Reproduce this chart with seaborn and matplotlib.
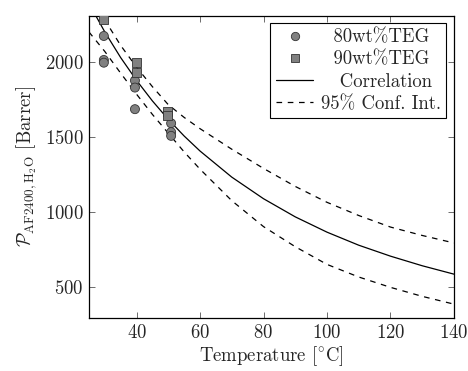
"""
Water permeability of AF2400 vs temperature, with Arrhenius-type correlation.
"""
import numpy as np
import pandas as pd
import matplotlib
matplotlib.use('Agg')
import matplotlib.pyplot as plt
import seaborn as sns
from matplotlib.lines import Line2D

temp_80 = [29.7, 29.7, 29.7, 39.5, 39.5, 39.5, 50.9, 50.9, 50.9]
perm_80 = [2173, 2013, 1995, 1876, 1829, 1685, 1591, 1532, 1507]
temp_90 = [29.7, 40.0, 40.0, 49.7, 49.7]
perm_90 = [2285, 1993, 1929, 1667, 1640]

# correlation and 95% confidence band
temp_fit = [25, 30, 35, 40, 45, 50, 55, 60, 70, 80, 90, 100, 110, 120, 130, 140]
perm_fit = [2391, 2200, 2029, 1877, 1740, 1617, 1506, 1406, 1232, 1088, 967, 865, 778, 705, 641, 585]
perm_upper = [2480, 2280, 2110, 1965, 1835, 1715, 1630, 1555, 1418, 1290, 1170, 1064, 976, 899, 843, 793]
perm_lower = [2200, 2070, 1925, 1785, 1650, 1525, 1400, 1285, 1075, 902, 768, 650, 566, 497, 437, 385]

sns.set_style("ticks")
plt.rcParams['font.family'] = 'serif'
plt.rcParams['font.serif'] = ['cmr10', 'DejaVu Serif']
plt.rcParams['mathtext.fontset'] = 'cm'
plt.rcParams['axes.unicode_minus'] = False
plt.rcParams['axes.formatter.use_mathtext'] = True
plt.rcParams['font.size'] = 13.5

df_pts = pd.DataFrame({
    'T': temp_80 + temp_90,
    'P': perm_80 + perm_90,
    'grp': ['80wt%TEG'] * len(temp_80) + ['90wt%TEG'] * len(temp_90),
})
df_fit = pd.DataFrame({'T': temp_fit, 'P': perm_fit, 'lo': perm_lower, 'hi': perm_upper})

fig = plt.figure(figsize=(4.68, 3.71), dpi=100)
ax = fig.add_axes([0.190, 0.143, 0.780, 0.815])

sns.scatterplot(data=df_pts, x='T', y='P', style='grp', markers={'80wt%TEG': 'o', '90wt%TEG': 's'},
                color='#808080', edgecolor='#333333', linewidth=0.6, s=42, ax=ax, legend=False, zorder=3)
sns.lineplot(data=df_fit, x='T', y='P', color='black', lw=0.9, ax=ax, legend=False)
for col in ['hi', 'lo']:
    sns.lineplot(data=df_fit, x='T', y=col, color='black', lw=0.9, ax=ax, legend=False,
                 dashes=False, linestyle=(0, (4.5, 4.5)))

ax.set_xlim(25, 140)
ax.set_ylim(293, 2309)
ax.set_xticks([40, 60, 80, 100, 120, 140])
ax.set_yticks([500, 1000, 1500, 2000])
ax.tick_params(direction='in', length=4.5, width=0.6, top=True, right=True, color='#555555', pad=4)
for s in ax.spines.values():
    s.set_linewidth(0.9)
    s.set_color('black')
ax.set_xlabel(r'Temperature [$^{\circ}$C]', labelpad=2)
ax.set_ylabel(r'$\mathcal{P}_{\mathrm{AF2400,H_2O}}$ [Barrer]', labelpad=4)

# legend (labels padded so the text looks centred)
handles = [
    Line2D([], [], marker='o', ls='none', color='#808080', mec='#333333', mew=0.6, ms=6),
    Line2D([], [], marker='s', ls='none', color='#808080', mec='#333333', mew=0.6, ms=6),
    Line2D([], [], color='black', lw=0.9),
    Line2D([], [], color='black', lw=0.9, linestyle=(0, (4.5, 4.5))),
]
labels = ['  80wt%TEG', '  90wt%TEG', '   Correlation', '95% Conf. Int.']
leg = ax.legend(handles, labels, loc='upper right', frameon=True, fancybox=False,
                edgecolor='black', framealpha=1, handlelength=2.0, handletextpad=0.4,
                borderpad=0.3, labelspacing=0.22, borderaxespad=0.4, fontsize=13.5)
leg.get_frame().set_linewidth(0.8)

plt.savefig('out.png', dpi=100)
